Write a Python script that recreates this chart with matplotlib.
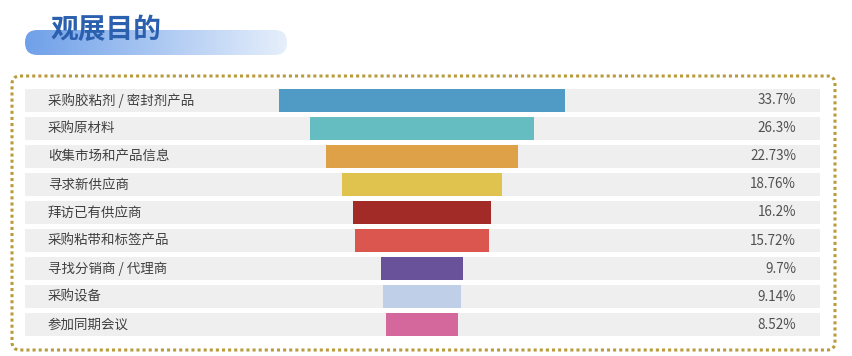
import numpy as np
import matplotlib.pyplot as plt
from matplotlib.patches import FancyBboxPatch

plt.rcParams['font.family'] = ['Noto Sans CJK SC', 'DejaVu Sans']

categories = ['采购胶粘剂 / 密封剂产品', '采购原材料', '收集市场和产品信息', '寻求新供应商',
              '拜访已有供应商', '采购粘带和标签产品', '寻找分销商 / 代理商', '采购设备', '参加同期会议']
values = [33.7, 26.3, 22.73, 18.76, 16.2, 15.72, 9.7, 9.14, 8.52]
value_labels = ['33.7%', '26.3%', '22.73%', '18.76%', '16.2%', '15.72%', '9.7%', '9.14%', '8.52%']
colors = ['#509bc5', '#65bcc1', '#dea148', '#e0c24e', '#a22b28', '#dc5650',
          '#6a529b', '#bfcfe8', '#d4679c']
title = '观展目的'

W, H = 852, 356
fig = plt.figure(figsize=(W / 100, H / 100), dpi=100)

# decoration layer in pixel coordinates
deco = fig.add_axes([0, 0, 1, 1])
deco.set_xlim(0, W)
deco.set_ylim(H, 0)
deco.axis('off')

# gradient pill behind title
pill = FancyBboxPatch((25, 30), 262, 25, boxstyle='round,pad=0,rounding_size=12.5',
                      transform=deco.transData, facecolor='none', edgecolor='none')
deco.add_patch(pill)
c1 = np.array([0x6f, 0xa0, 0xe9]) / 255
c2 = np.array([0xe6, 0xef, 0xfb]) / 255
t = np.linspace(0, 1, 256)
grad = (c1[None, :] * (1 - t[:, None]) + c2[None, :] * t[:, None])[None, :, :]
im = deco.imshow(grad, extent=(25, 287, 55, 30), aspect='auto', zorder=1)
im.set_clip_path(pill)
deco.set_xlim(0, W)
deco.set_ylim(H, 0)

deco.text(51, 30, title, fontsize=20, fontweight='bold', color='#2a60ae',
          va='center', ha='left', zorder=3)

# dotted golden frame
frame = FancyBboxPatch((12, 76), 823, 274, boxstyle='round,pad=0,rounding_size=8',
                       facecolor='none', edgecolor='#b89c3c', linewidth=2.2,
                       linestyle=(0, (1, 1)), zorder=2)
deco.add_patch(frame)

# funnel bars
ax = fig.add_axes([25 / W, 1 - 340 / H, (820 - 25) / W, (340 - 85) / H])
ax.set_zorder(2)
ax.patch.set_alpha(0)
y = np.arange(len(values))
xmin, xmax = -46.76, 46.88
ax.set_xlim(xmin, xmax)
ax.set_ylim(len(values) - 0.5 + 0.05, -0.5 - 0.05)
ax.barh(y, xmax - xmin, left=xmin, height=0.8, color='#efefef', zorder=1)
vals = np.array(values)
ax.barh(y, vals, left=-vals / 2, height=0.8, color=colors, zorder=2)
for yi, lab, vl in zip(y, categories, value_labels):
    ax.text(xmin + 23 / 8.49, yi, lab, fontsize=9.7, fontweight='medium', color='#404040',
            va='center', ha='left', zorder=3)
    ax.text(xmax - 24 / 8.49, yi, vl, fontsize=9.7, fontweight='medium', color='#505050',
            va='center', ha='right', zorder=3)
ax.axis('off')

fig.savefig('out.png', dpi=100)
